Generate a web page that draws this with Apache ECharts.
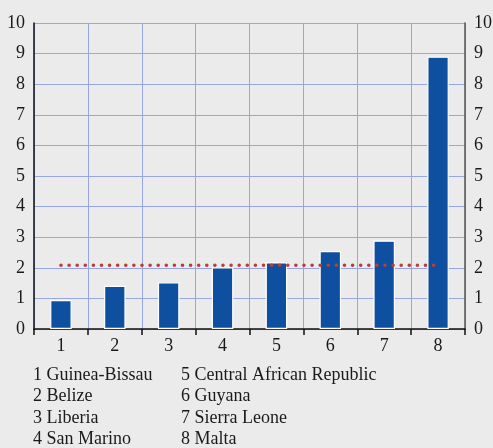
<!DOCTYPE html>
<html><head><meta charset="utf-8">
<script src="https://cdn.jsdelivr.net/npm/echarts@6/dist/echarts.min.js"></script>
<style>html,body{margin:0;padding:0;background:#ebebeb}#c{width:493px;height:448px}</style>
</head><body><div id="c"></div>
<script>
var categories = ['1','2','3','4','5','6','7','8'];
var values = [0.95, 1.41, 1.53, 2.02, 2.18, 2.55, 2.89, 8.9];
var average = [2.08, 2.08, 2.08, 2.08, 2.08, 2.08, 2.08, 2.08];
var yTicks = [0,1,2,3,4,5,6,7,8,9,10];
var legendCol1 = ['1 Guinea-Bissau','2 Belize','3 Liberia','4 San Marino'];
var legendCol2 = ['5 Central African Republic','6 Guyana','7 Sierra Leone','8 Malta'];

var FONT = '"Liberation Serif","DejaVu Serif",serif';
var chart = echarts.init(document.getElementById('c'), null, {renderer:'canvas'});
var graphics = [];
legendCol1.forEach(function(t,i){ graphics.push({type:'text', left:33, top:366+i*21.5, style:{text:t, font:'18px '+FONT, fill:'#1a1a1a'}}); });
legendCol2.forEach(function(t,i){ graphics.push({type:'text', left:181, top:366+i*21.5, style:{text:t, font:'18px '+FONT, fill:'#1a1a1a'}}); });

var yCommon = {
  type:'value', min:yTicks[0], max:yTicks[yTicks.length-1], interval:1,
  axisLine:{show:true, lineStyle:{color:'#111', width:1.5}},
  axisTick:{show:false},
  axisLabel:{fontFamily:FONT, fontSize:18, color:'#1a1a1a'},
};
chart.setOption({
  backgroundColor:'#ebebeb',
  animation:false,
  grid:{left:34, right:28, top:23, bottom:119, containLabel:false, outerBoundsMode:'none'},
  xAxis:{
    type:'category', data:categories, boundaryGap:true,
    axisLine:{show:true, lineStyle:{color:'#111', width:1.5}},
    axisTick:{show:true, length:6, inside:false, lineStyle:{color:'#111', width:1.5}},
    axisLabel:{fontFamily:FONT, fontSize:18, color:'#1a1a1a', margin:8},
    splitLine:{show:true, lineStyle:{color:'#98a6e6', width:1}}
  },
  yAxis:[
    Object.assign({}, yCommon, {position:'left', axisLabel:Object.assign({}, yCommon.axisLabel, {margin:9}),
      splitLine:{show:true, lineStyle:{color:'#98a6e6', width:1}}}),
    Object.assign({}, yCommon, {position:'right', axisLine:{show:true, lineStyle:{color:'#555', width:1.5}}, axisLabel:Object.assign({}, yCommon.axisLabel, {margin:9}),
      splitLine:{show:false}})
  ],
  series:[
    {type:'bar', data:values, barWidth:'40%', yAxisIndex:0,
      itemStyle:{color:'#0f4f9f', borderColor:'#ffffff', borderWidth:1.2}},
    {type:'line', data:average, yAxisIndex:0, symbol:'none', z:5,
      lineStyle:{color:'#b5403a', width:3.5, type:[0.1,8.0], cap:'round'}}
  ],
  graphic:graphics
});
</script></body></html>
